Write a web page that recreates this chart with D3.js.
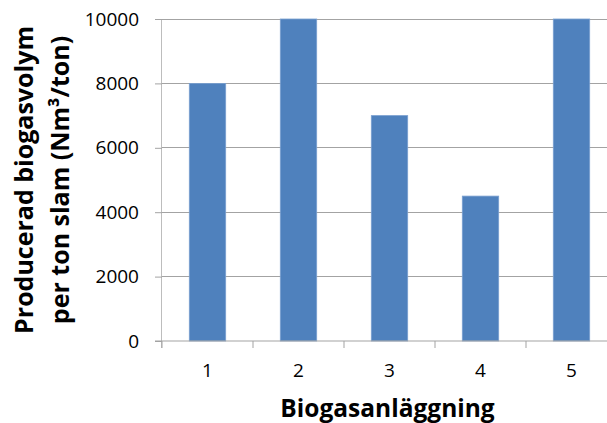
<!DOCTYPE html>
<html><head><meta charset="utf-8">
<script src="https://cdn.jsdelivr.net/npm/d3@7"></script>
<style>body{margin:0;background:#fff}svg{display:block}</style>
</head><body>
<script>
const categories = ["1","2","3","4","5"];
const values = [8000, 10000, 7000, 4500, 10000];
const yTicks = [0, 2000, 4000, 6000, 8000, 10000];
const yTitle = ["Producerad biogasvolym", "per ton slam (Nm³/ton)"];
const xTitle = "Biogasanläggning";

(function () {
const W = 607, H = 423;
const mLeft = 162, mRight = 617, mTop = 19, mBottom = 341;
const svg = d3.select("body").append("svg").attr("width", W).attr("height", H);
const font = "'Open Sans', sans-serif";

const x = d3.scaleBand().domain(categories).range([mLeft, mRight]).paddingInner(0.6).paddingOuter(0.3);
const y = d3.scaleLinear().domain([0, 10000]).range([mBottom, mTop]);

// gridlines
svg.append("g").selectAll("line").data(yTicks.filter(d => d > 0)).join("line")
  .attr("x1", mLeft).attr("x2", mRight)
  .attr("y1", d => y(d)).attr("y2", d => y(d))
  .attr("stroke", "#a3a3a3").attr("stroke-width", 1).attr("shape-rendering", "crispEdges");

// bars
svg.append("g").selectAll("rect").data(values).join("rect")
  .attr("x", (d, i) => x(categories[i]))
  .attr("width", x.bandwidth())
  .attr("y", d => y(d))
  .attr("height", d => y(0) - y(d))
  .attr("fill", "#4f81bd")
  .attr("stroke", "#7aa0d0").attr("stroke-width", 0.8);

// y axis
const yAxis = d3.axisLeft(y).tickValues(yTicks).tickSize(7).tickPadding(16).tickFormat(d3.format("d"));
const gy = svg.append("g").attr("transform", `translate(${mLeft},0)`).call(yAxis);
gy.select(".domain").attr("stroke", "#bdbdbd").attr("d", `M-0.5,${mTop}V${mBottom + 7}`);
gy.selectAll(".tick line").attr("stroke", "#a3a3a3");
gy.selectAll("text").attr("font-family", font).attr("font-size", 19).attr("fill", "#000");

// x axis
const xb = d3.scaleLinear().domain([0, 5]).range([mLeft, mRight]);
const gx = svg.append("g").attr("transform", `translate(0,${mBottom})`);
gx.append("line").attr("x1", mLeft - 7).attr("x2", mRight).attr("y1", 0).attr("y2", 0).attr("stroke", "#a3a3a3");
gx.selectAll("line.t").data(d3.range(0, 6)).join("line").attr("class", "t")
  .attr("x1", d => xb(d)).attr("x2", d => xb(d)).attr("y1", 0).attr("y2", 7)
  .attr("stroke", "#a3a3a3");
gx.selectAll("text").data(categories).join("text")
  .attr("x", d => x(d) + x.bandwidth() / 2).attr("y", 36)
  .attr("text-anchor", "middle").attr("font-family", font).attr("font-size", 19).text(d => d);

// titles
svg.append("text").attr("x", (mLeft + mRight) / 2 - 2).attr("y", 417)
  .attr("text-anchor", "middle").attr("font-family", font).attr("font-weight", "bold")
  .attr("font-size", 24.5).text(xTitle);

const yt = svg.append("g").attr("transform", "translate(0,180) rotate(-90)");
yTitle.forEach((t, i) => {
  yt.append("text").attr("x", 0).attr("y", 33 + i * 36)
    .attr("text-anchor", "middle").attr("font-family", font).attr("font-weight", "bold")
    .attr("font-size", 25).text(t);
});
})();
</script>
</body></html>
